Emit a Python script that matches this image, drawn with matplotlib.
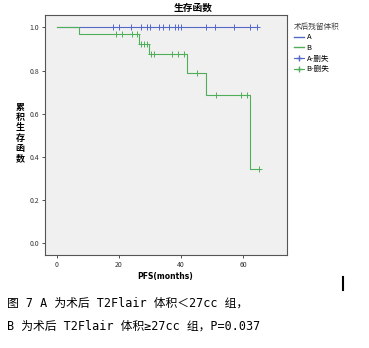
import matplotlib
matplotlib.use("Agg")
import matplotlib.pyplot as plt
from matplotlib.lines import Line2D

plt.rcParams['font.family'] = ['Noto Sans CJK SC', 'DejaVu Sans']

# Data
a_times = [0, 64.3]
a_surv = [1.0, 1.0]
a_cens = [18, 20, 24, 27, 29, 30, 33, 34, 36, 38, 39, 40, 48, 51, 57, 62, 64.3]

b_times = [0, 7.2, 26.6, 29.8, 41.8, 48.0, 62.0, 65.1]
b_surv = [1.0, 0.969, 0.923, 0.875, 0.787, 0.687, 0.343, 0.343]
b_cens_t = [19.1, 21.1, 24.1, 25.9, 27.2, 28.1, 29.0, 30.3, 31.2, 37.0, 38.9, 40.8,
            45.0, 51.2, 59.2, 61.1, 65.1]
b_cens_s = [0.969, 0.969, 0.969, 0.969, 0.923, 0.923, 0.923, 0.875, 0.875, 0.875,
            0.875, 0.875, 0.787, 0.687, 0.687, 0.687, 0.343]

xticks = [0, 20, 40, 60]
yticks = [0.0, 0.2, 0.4, 0.6, 0.8, 1.0]

blue = '#5468c8'
green = '#4fae5a'

fig = plt.figure(figsize=(3.69, 3.48), dpi=100)
ax = fig.add_axes([45/369, 1-255/348, (287-45)/369, (255-15)/348])
ax.set_facecolor('#f0f0f0')

ax.step(a_times, a_surv, where='post', color=blue, lw=0.8)
ax.plot(a_cens, [1.0]*len(a_cens), ls='none', marker='+', color=blue, ms=4, mew=0.7)
ax.step(b_times, b_surv, where='post', color=green, lw=0.8)
ax.plot(b_cens_t, b_cens_s, ls='none', marker='+', color=green, ms=4, mew=0.7)

ax.set_xlim(-3.76, 74)
ax.set_ylim(-0.054, 1.057)
ax.set_xticks(xticks)
ax.set_xticklabels([str(v) for v in xticks])
ax.set_yticks(yticks)
ax.set_yticklabels([f'{v:.1f}' for v in yticks])
ax.tick_params(labelsize=5, length=2, width=0.6, color='#333333', labelcolor='#333333', pad=2)
for s in ax.spines.values():
    s.set_color('#555555')
    s.set_linewidth(0.8)

fig.text(193/369, 1-8/348, '生存函数', ha='center', va='center', fontsize=7, fontweight='bold')
fig.text(165/369, 1-276/348, 'PFS(months)', ha='center', va='center', fontsize=5.5, fontweight='bold',
         family=['DejaVu Sans'])
fig.text(20/369, 1-133/348, '累\n积\n生\n存\n函\n数', ha='center', va='center', fontsize=6.5,
         fontweight='bold', linespacing=1.15)

handles = [Line2D([], [], color=blue, lw=1.0),
           Line2D([], [], color=green, lw=1.0),
           Line2D([], [], color=blue, lw=0.8, marker='+', ms=4),
           Line2D([], [], color=green, lw=0.8, marker='+', ms=4)]
labels = ['A', 'B', 'A-删失', 'B-删失']
leg = ax.legend(handles, labels, loc='upper left', bbox_to_anchor=(1.005, 0.99), frameon=False,
                title='术后残留体积', fontsize=5.5, title_fontsize=5.5, handlelength=1.4,
                handletextpad=0.3, labelspacing=0.35, borderaxespad=0.3)
leg._legend_box.align = 'left'
leg.get_title().set_color('#444444')

cap_fam = ['DejaVu Sans Mono', 'Noto Sans CJK SC']
fig.text(7/369, 1-303/348, '图 7 A 为术后 T2Flair 体积＜27cc 组，', ha='left', va='center',
         fontsize=8.5, family=cap_fam)
fig.text(7/369, 1-326/348, 'B 为术后 T2Flair 体积≥27cc 组，P=0.037', ha='left', va='center',
         fontsize=8.5, family=cap_fam)

fig.add_artist(Line2D([343/369, 343/369], [1-277/348, 1-290/348], color='black', lw=1.5))

fig.savefig('out.png', dpi=100, facecolor='white')
